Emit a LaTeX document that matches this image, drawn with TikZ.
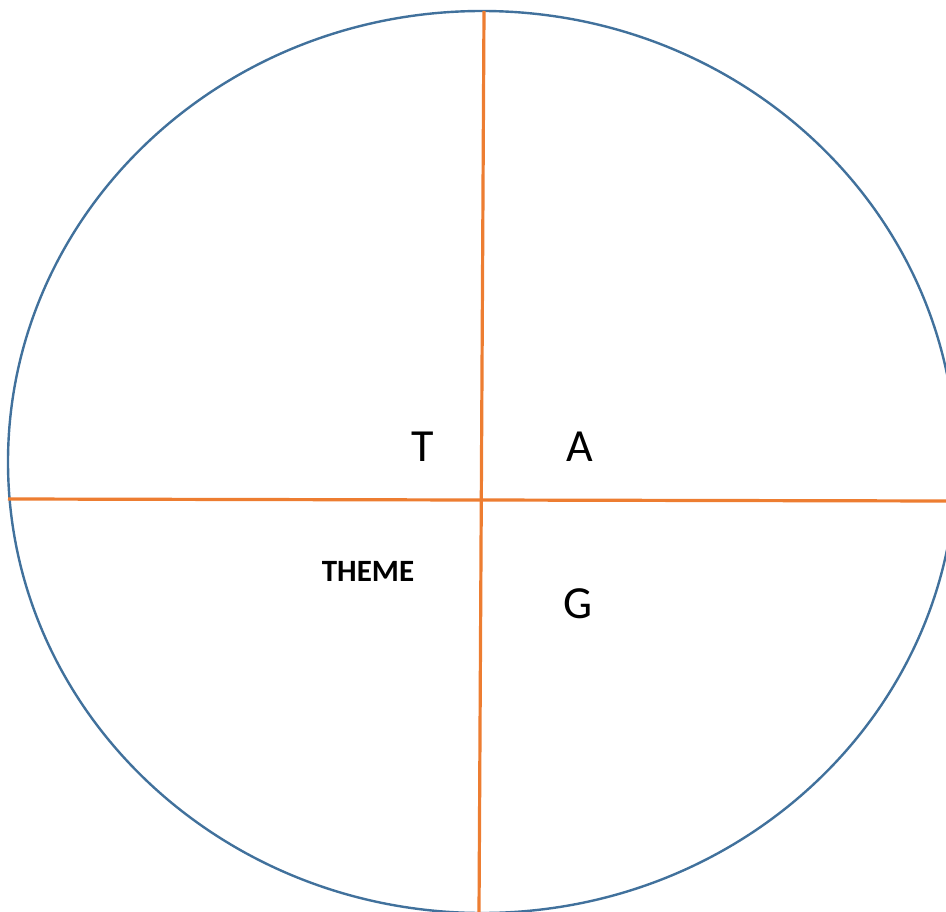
\documentclass[tikz,border=0pt]{standalone}
\usepackage{fontspec}
\setmainfont{Carlito}
\definecolor{ringblue}{HTML}{41719C}
\definecolor{axisorange}{HTML}{ED7D31}
\begin{document}
\begin{tikzpicture}[x=1pt,y=-1pt,
  ring/.style={draw=ringblue,line width=2.4pt},
  axis/.style={draw=axisorange,line width=3.2pt},
  letter/.style={inner sep=0pt,font=\fontsize{46}{50}\selectfont},
  themelabel/.style={inner sep=0pt,font=\bfseries\fontsize{31}{35}\selectfont}]
\useasboundingbox (0,0) rectangle (946,912);
\clip (0,0) rectangle (946,912);
\draw[ring] (482,462) ellipse [x radius=474, y radius=451];
\coordinate (top) at (484,11);
\coordinate (bottom) at (479,914);
\coordinate (left) at (8,499);
\coordinate (right) at (948,501);
\draw[axis] (top) -- (bottom);
\draw[axis] (left) -- (right);
\node[letter] (T) at (423,447) {T};
\node[letter] (A) at (580,447) {A};
\node[letter] (G) at (578,604) {G};
\node[themelabel] (theme) at (368,571) {THEME};
\end{tikzpicture}
\end{document}
